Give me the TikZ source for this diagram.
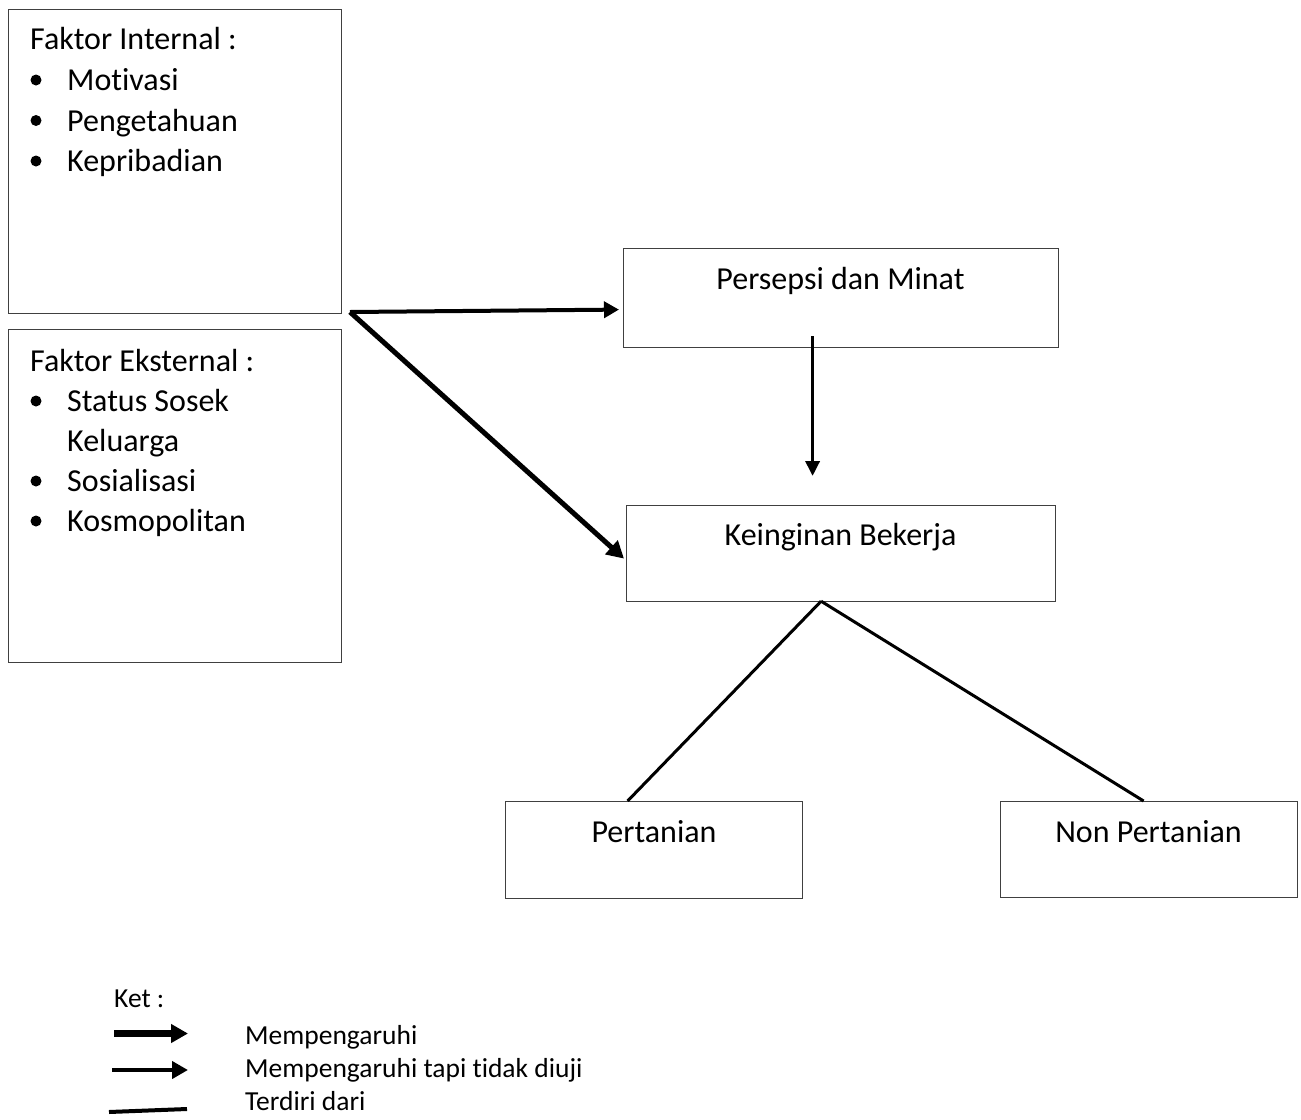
\documentclass[tikz,border=0pt]{standalone}
\usepackage{fontspec}
\setmainfont{Carlito}[Ligatures={NoCommon}]
\usetikzlibrary{arrows.meta,calc}
\begin{document}
\begin{tikzpicture}[x=1pt,y=-1pt,
  box/.style={draw=black!75,line width=1.2pt,rectangle,anchor=north west,inner sep=0pt},
  txt/.style={anchor=base west,inner sep=0pt,font=\fontsize{32}{38}\selectfont},
  ctxt/.style={anchor=base,inner sep=0pt,font=\fontsize{32}{38}\selectfont},
  ltxt/.style={anchor=base west,inner sep=0pt,font=\fontsize{27.5}{33}\selectfont},
  bul/.style={circle,fill=black,inner sep=0pt,minimum size=11pt},
  thickarr/.style={line width=4pt,-{Triangle[length=15pt,width=16pt]}},
  diagarr/.style={line width=5pt,-{Triangle[length=17pt,width=18pt]}},
  vertarr/.style={line width=3.5pt,-{Triangle[length=15pt,width=14pt]}},
  consist/.style={line width=3pt}
]
\useasboundingbox (0,0) rectangle (1301,1119);
\fill[white] (0,0) rectangle (1301,1119);

% boxes
\node[box,minimum width=333pt,minimum height=304pt] (int) at (8,9) {};
\node[box,minimum width=333pt,minimum height=333pt] (ext) at (8,329) {};
\node[box,minimum width=435pt,minimum height=99pt] (p) at (623,248) {};
\node[box,minimum width=429pt,minimum height=96pt] (k) at (626,505) {};
\node[box,minimum width=297pt,minimum height=97pt] (pt) at (505,801) {};
\node[box,minimum width=297pt,minimum height=96pt] (npt) at (1000,801) {};

% internal text
\node[txt] (t1) at (30,49.5) {Faktor Internal :};
\node[bul] (b1) at (36,80) {};
\node[txt] (t2) at (67,90.5) {Motivasi};
\node[bul] (b2) at (36,120.5) {};
\node[txt] (t3) at (67,131) {Pengetahuan};
\node[bul] (b3) at (36,161) {};
\node[txt] (t4) at (67,171.5) {Kepribadian};

% external text
\node[txt] (e1) at (30,371) {Faktor Eksternal :};
\node[bul] (eb1) at (36,401) {};
\node[txt] (e2) at (67,411.5) {Status Sosek};
\node[txt] (e3) at (67,451.5) {Keluarga};
\node[bul] (eb2) at (36,481) {};
\node[txt] (e4) at (67,491.5) {Sosialisasi};
\node[bul] (eb3) at (36,521) {};
\node[txt] (e5) at (67,531.5) {Kosmopolitan};

% centered texts
\node[ctxt] (pl) at (840.5,289) {Persepsi dan Minat};
\node[ctxt] (kl) at (840.5,545.5) {Keinginan Bekerja};
\node[ctxt] (ptl) at (654,842.5) {Pertanian};
\node[ctxt] (nptl) at (1148.5,842.5) {Non Pertanian};

% connectors
\coordinate (o) at (350,312);
\coordinate (pin) at ($(p.west)+(-4,11.5)$);
\coordinate (kin) at ($(k.west)+(-2,5)$);
\draw[thickarr,line cap=butt] (o) -- (pin);
\draw[diagarr,line join=round] (o) -- (kin);
\coordinate (vs) at ($(p.south)+(-28.5,-12)$);
\coordinate (ve) at ($(k.north)+(-28.5,-29)$);
\draw[vertarr] (vs) -- (ve);
\coordinate (ks) at ($(k.south)+(-20,-1)$);
\coordinate (ptn) at ($(pt.north)+(-26.5,0)$);
\coordinate (nptn) at ($(npt.north)+(-5.5,0)$);
\draw[consist] (ks) -- (ptn);
\draw[consist] (ks) -- (nptn);

% legend
\node[ltxt] (ket) at (114,1007) {Ket :};
\coordinate (l1a) at (114,1033.5);
\coordinate (l1b) at (188,1033.5);
\draw[line width=6.5pt,-{Triangle[length=17pt,width=18pt]}] (l1a) -- (l1b);
\node[ltxt] (m1) at (245,1044) {Mempengaruhi};
\coordinate (l2a) at (112,1070);
\coordinate (l2b) at (188,1070);
\draw[line width=4.5pt,-{Triangle[length=16pt,width=17pt]}] (l2a) -- (l2b);
\node[ltxt] (m2) at (245,1077) {Mempengaruhi tapi tidak diuji};
\coordinate (l3a) at (109,1112);
\coordinate (l3b) at (187,1109);
\draw[line width=4pt] (l3a) -- (l3b);
\node[ltxt] (m3) at (245,1110) {Terdiri dari};
\end{tikzpicture}
\end{document}
